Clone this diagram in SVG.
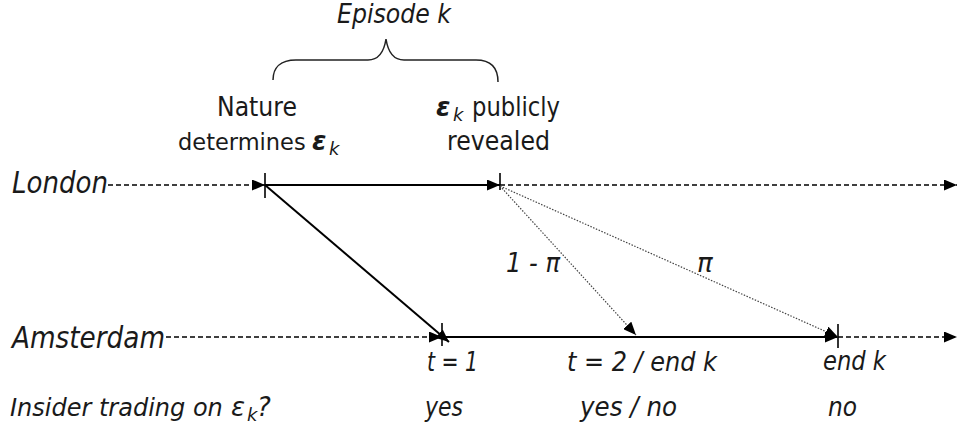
<svg xmlns="http://www.w3.org/2000/svg" width="958" height="430" viewBox="0 0 958 430">
<style>
.up{font-family:"DejaVu Sans","Liberation Sans",sans-serif;font-size:26px;fill:#1a1a1a}
.it{font-family:"DejaVu Sans","Liberation Sans",sans-serif;font-style:italic;font-size:26px;fill:#1a1a1a}
.big{font-size:31px}
.eps{font-weight:bold;font-style:italic}
.sub{font-size:18px;font-style:italic}
.dash{stroke:#000;stroke-width:1.6;stroke-dasharray:5 3;fill:none}
.solid{stroke:#000;stroke-width:2;fill:none}
.tick{stroke:#000;stroke-width:1.6}
.dot{stroke:#444;stroke-width:1.2;stroke-dasharray:1.5 1.5;fill:none}
.brace{stroke:#222;stroke-width:1.5;fill:none}
</style>
<defs>
<marker id="ah" markerUnits="userSpaceOnUse" markerWidth="14" markerHeight="11" refX="13" refY="5.5" orient="auto" viewBox="0 0 14 11">
<path d="M0,0 L13,5.5 L0,11 z" fill="#000"/>
</marker>
</defs>
<rect width="958" height="430" fill="#fff"/>

<g id="episode">
<text class="it" x="337" y="23" textLength="114" lengthAdjust="spacingAndGlyphs">Episode k</text>
<path class="brace" d="M273,80 C273,68 280,60 296,60 L368,60 C378,60 384,52 386,39 C388,52 394,60 404,60 L476,60 C491,60 498,68 498,82"/>
</g>

<g id="nature">
<text class="up" x="217" y="116" textLength="80" lengthAdjust="spacingAndGlyphs">Nature</text>
<text class="up" x="178" y="150"><tspan style="font-size:22.5px">determines</tspan><tspan x="312" class="eps">ε</tspan><tspan x="329" dy="5" class="sub">k</tspan></text>
</g>

<g id="revealed">
<text class="up" x="436" y="116"><tspan class="eps">ε</tspan><tspan x="453" dy="5" class="sub">k</tspan><tspan x="472" dy="-5" textLength="88" lengthAdjust="spacingAndGlyphs">publicly</tspan></text>
<text class="up" x="447" y="150" textLength="103" lengthAdjust="spacingAndGlyphs">revealed</text>
</g>

<g id="london">
<text class="it big" x="12" y="193" textLength="96" lengthAdjust="spacingAndGlyphs">London</text>
</g>

<g id="amsterdam">
<text class="it big" x="12" y="348" textLength="153" lengthAdjust="spacingAndGlyphs">Amsterdam</text>
</g>

<g id="prob-labels">
<text class="it" x="506" y="272" textLength="54" lengthAdjust="spacingAndGlyphs">1 - π</text>
<text class="it" x="697" y="272">π</text>
</g>

<g id="time-labels">
<text class="it" x="427" y="371" textLength="51" lengthAdjust="spacingAndGlyphs">t = 1</text>
<text class="it" x="567" y="371" textLength="150" lengthAdjust="spacingAndGlyphs">t = 2 / end k</text>
<text class="it" x="823" y="370" textLength="63" lengthAdjust="spacingAndGlyphs">end k</text>
</g>

<g id="insider">
<text class="it" x="10" y="416"><tspan style="font-size:24px">Insider trading on</tspan><tspan x="231">ε</tspan><tspan x="247" dy="5" class="sub">k</tspan><tspan x="257" dy="-5">?</tspan></text>
<text class="it" x="425" y="416" textLength="38" lengthAdjust="spacingAndGlyphs">yes</text>
<text class="it" x="580" y="416" textLength="97" lengthAdjust="spacingAndGlyphs">yes / no</text>
<text class="it" x="828" y="416" textLength="29" lengthAdjust="spacingAndGlyphs">no</text>
</g>

<g id="connectors">
<line class="dash" x1="108" y1="185" x2="265" y2="185" marker-end="url(#ah)"/>
<line class="solid" x1="265" y1="185" x2="500" y2="185" marker-end="url(#ah)"/>
<line class="dash" x1="500" y1="185" x2="957" y2="185" marker-end="url(#ah)"/>
<line class="tick" x1="265" y1="173" x2="265" y2="198"/>
<line class="tick" x1="500" y1="173" x2="500" y2="190"/>

<line class="dash" x1="166" y1="337" x2="442" y2="337" marker-end="url(#ah)"/>
<line class="solid" x1="442" y1="337" x2="838" y2="337" marker-end="url(#ah)"/>
<line class="dash" x1="838" y1="337" x2="957" y2="337" marker-end="url(#ah)"/>
<line class="tick" x1="442" y1="323" x2="442" y2="346"/>
<line class="tick" x1="838" y1="324" x2="838" y2="348"/>

<line class="solid" x1="265" y1="185" x2="449" y2="342" marker-end="url(#ah)"/>
<line class="dot" x1="500" y1="186" x2="636" y2="335" marker-end="url(#ah)"/>
<line class="dot" x1="500" y1="186" x2="838" y2="337" marker-end="url(#ah)"/>
</g>
</svg>
